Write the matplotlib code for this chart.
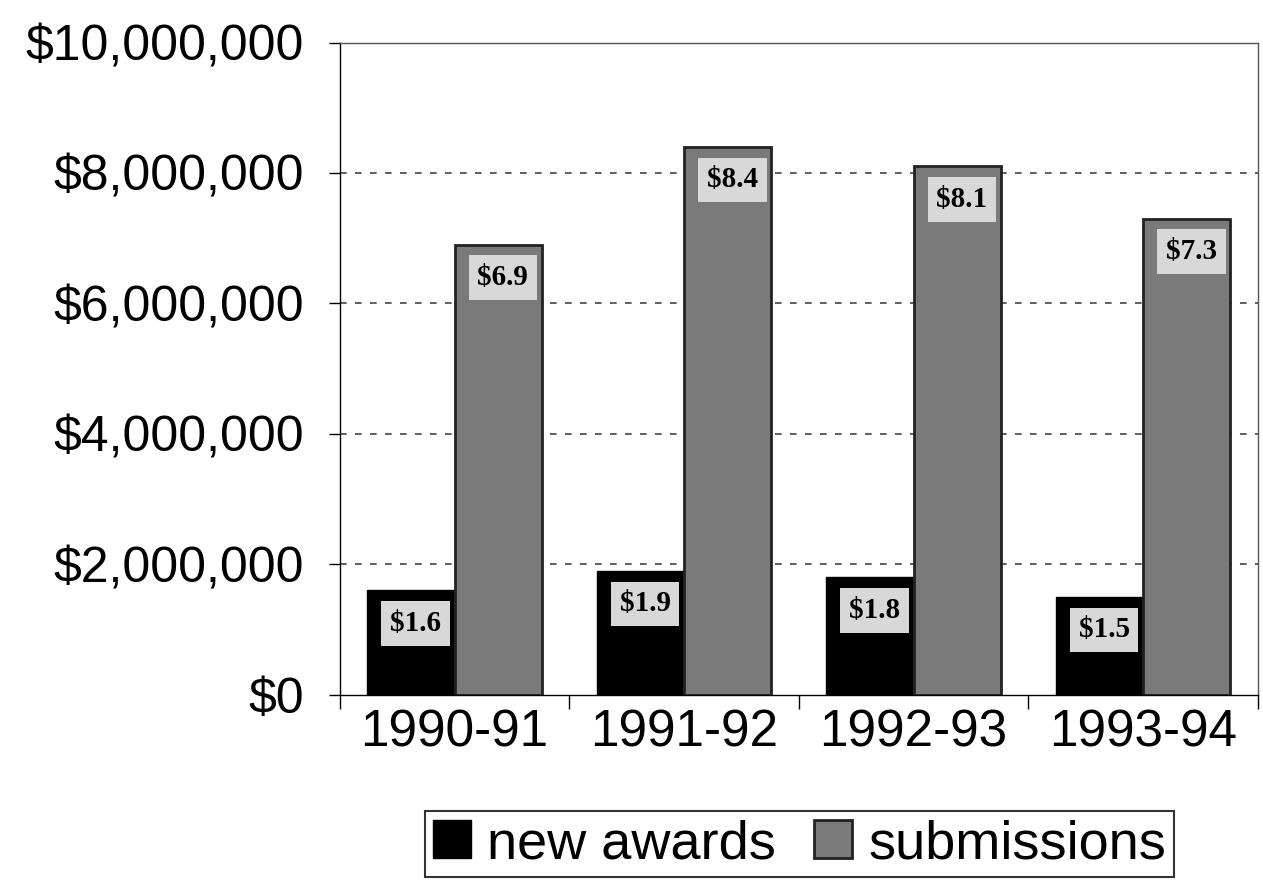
import numpy as np
import matplotlib
matplotlib.use('Agg')
import matplotlib.pyplot as plt
from matplotlib.ticker import FuncFormatter, FixedLocator

years = ['1990-91', '1991-92', '1992-93', '1993-94']
new_awards = [1.6, 1.9, 1.8, 1.5]       # millions
submissions = [6.9, 8.4, 8.1, 7.3]      # millions
gridlines = [2, 4, 6, 8]

plt.rcParams['font.family'] = ['Liberation Sans', 'DejaVu Sans']

fig = plt.figure(figsize=(12.63, 8.86), dpi=100)
ax = fig.add_axes([0.269, 0.216, 0.727, 0.736])

x = np.arange(len(years))
w = 0.38
ax.bar(x - w / 2, new_awards, w, color='black', edgecolor='black',
       linewidth=1, label='new awards', zorder=3)
ax.bar(x + w / 2, submissions, w, color='#7a7a7a', edgecolor='#222222',
       linewidth=2, label='submissions', zorder=3)

for xs, vals in ((x - w / 2, new_awards), (x + w / 2, submissions)):
    for xi, v in zip(xs, vals):
        ax.text(xi + 0.02, v - 0.3, f'${v:.1f}', ha='center', va='top',
                fontsize=21, fontweight='bold', family='Liberation Serif',
                zorder=4,
                bbox=dict(boxstyle='square,pad=0.3', fc='#d8d8d8', ec='none'))

for g in gridlines:
    ax.axhline(g, linestyle=(0, (4, 5)), color='#444444', linewidth=1.2, zorder=1)

ax.set_xlim(-0.5, len(years) - 0.5)
ax.set_ylim(0, 10)
ax.yaxis.set_major_locator(FixedLocator([0, 2, 4, 6, 8, 10]))
ax.yaxis.set_major_formatter(FuncFormatter(lambda v, p: f'${v * 1e6:,.0f}'))
ax.set_xticks(x)
ax.set_xticklabels(years)
ax.set_xticks(np.arange(-0.5, len(years)), minor=True)
ax.tick_params(axis='x', which='major', length=0, labelsize=37, pad=10)
ax.tick_params(axis='x', which='minor', length=10, width=1, direction='out')
ax.tick_params(axis='y', labelsize=36, length=8, width=1, pad=18)
for s in ax.spines.values():
    s.set_linewidth(1)
    s.set_color('#555555')
ax.spines['left'].set_color('black')
ax.spines['bottom'].set_color('black')

leg = fig.legend(loc='center', bbox_to_anchor=(0.633, 0.047), ncol=2,
                 fontsize=39, frameon=True, fancybox=False, edgecolor='black',
                 handlelength=0.7, handleheight=0.7, handletextpad=0.3,
                 columnspacing=0.7, borderpad=0.15, borderaxespad=0)
leg.get_frame().set_linewidth(1.5)

fig.savefig('out.png', dpi=100)
